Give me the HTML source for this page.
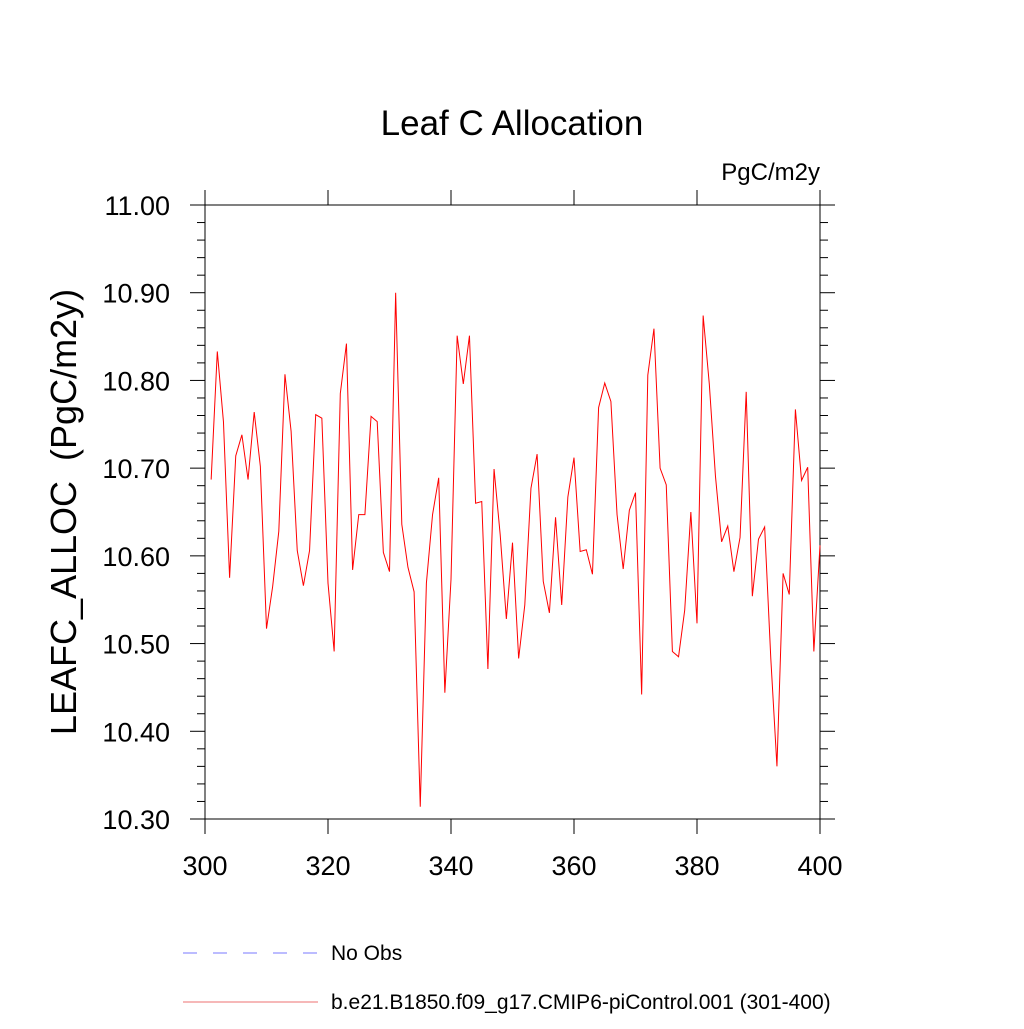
<!DOCTYPE html>
<html><head><meta charset="utf-8"><style>
body{margin:0;background:#fff}
svg text{font-family:"Liberation Sans",sans-serif;fill:#000}
</style></head><body>
<svg id="chart" width="1024" height="1024" viewBox="0 0 1024 1024" xmlns="http://www.w3.org/2000/svg">
<rect width="1024" height="1024" fill="#fff"/>
<text x="512" y="135" font-size="35" text-anchor="middle">Leaf C Allocation</text>
<text x="820" y="180" font-size="24" text-anchor="end">PgC/m2y</text>
<text transform="translate(76,512) rotate(-90)" font-size="36" text-anchor="middle" xml:space="preserve">LEAFC_ALLOC  (PgC/m2y)</text>
<g id="axes"></g>
<g id="series"></g>
<g>
<line x1="183" y1="953" x2="318" y2="953" stroke="#7a7aff" stroke-width="1" stroke-dasharray="14,16"/>
<text x="331" y="960" font-size="21">No Obs</text>
<line x1="183" y1="1002" x2="318" y2="1002" stroke="#ee7070" stroke-width="1"/>
<text x="331" y="1009" font-size="21">b.e21.B1850.f09_g17.CMIP6-piControl.001 (301-400)</text>
</g>
</svg>
<script>
const years = [];
for (let y = 301; y <= 400; y++) years.push(y);
const values = [10.687,10.833,10.753,10.575,10.714,10.738,10.687,10.764,10.702,10.517,
10.565,10.628,10.807,10.742,10.606,10.566,10.606,10.761,10.757,10.569,
10.491,10.785,10.842,10.584,10.647,10.647,10.759,10.753,10.604,10.582,
10.900,10.636,10.587,10.559,10.314,10.569,10.647,10.689,10.444,10.573,
10.851,10.796,10.851,10.660,10.662,10.471,10.699,10.624,10.528,10.615,
10.483,10.544,10.677,10.716,10.571,10.535,10.644,10.544,10.667,10.712,
10.605,10.607,10.579,10.769,10.797,10.776,10.647,10.585,10.652,10.672,
10.442,10.806,10.859,10.700,10.681,10.491,10.485,10.538,10.650,10.523,
10.874,10.796,10.691,10.616,10.634,10.582,10.621,10.787,10.554,10.619,
10.633,10.483,10.360,10.580,10.556,10.767,10.686,10.701,10.491,10.612];
const xTicks = [300,320,340,360,380,400];
const yTicks = [10.30,10.40,10.50,10.60,10.70,10.80,10.90,11.00];

const NS = "http://www.w3.org/2000/svg";
const X0=205,X1=820,Y0=819,Y1=205;
const xs = v => X0 + (v-300)/(400-300)*(X1-X0);
const ys = v => Y0 - (v-10.3)/(11.0-10.3)*(Y0-Y1);
const axes = document.getElementById('axes');
function mk(tag, attrs, parent){const e=document.createElementNS(NS,tag);for(const k in attrs)e.setAttribute(k,attrs[k]);parent.appendChild(e);return e;}

const frame = mk('rect',{x:X0,y:Y1,width:X1-X0,height:Y0-Y1,fill:'none',stroke:'#000','stroke-width':1},axes);



for(let i=0;i<=35;i++){
  const v=10.3+i*0.02; const y=ys(v); const major=(i%5===0);
  const len = major?15:8;
  const tl = mk('line',{x1:X0-len,y1:y,x2:X0,y2:y,stroke:'#000','stroke-width':1},axes);
  
  
  const tr = mk('line',{x1:X1,y1:y,x2:X1+len,y2:y,stroke:'#000','stroke-width':1},axes);
  
  
}
yTicks.forEach(v=>{
  const t=mk('text',{x:170,y:ys(v)+10,'font-size':27,'text-anchor':'end'},axes);
  t.textContent=v.toFixed(2);
  
  
});
xTicks.forEach(v=>{
  const x=xs(v);
  const b=mk('line',{x1:x,y1:Y0,x2:x,y2:Y0+15,stroke:'#000','stroke-width':1},axes);
  
  
  const tp=mk('line',{x1:x,y1:Y1-15,x2:x,y2:Y1,stroke:'#000','stroke-width':1},axes);
  
  
  const t=mk('text',{x:x,y:875,'font-size':27,'text-anchor':'middle'},axes);
  t.textContent=String(v);
  
  
});
const pts = years.map((yr,i)=>xs(yr).toFixed(2)+','+ys(values[i]).toFixed(2)).join(' ');
const line = mk('polyline',{points:pts,fill:'none',stroke:'#ff0000','stroke-width':1},document.getElementById('series'));


</script>
</body></html>
